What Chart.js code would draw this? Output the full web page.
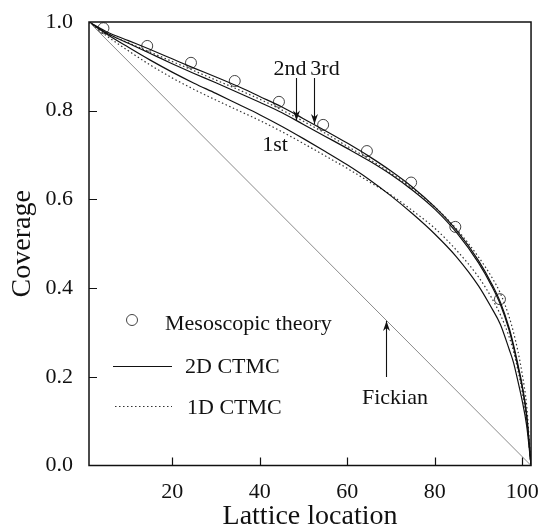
<!DOCTYPE html>
<html><head><meta charset="utf-8">
<script src="https://cdn.jsdelivr.net/npm/chart.js@4/dist/chart.umd.min.js"></script>
<style>html,body{margin:0;padding:0;background:#fff}#wrap{width:545px;height:529px}</style>
</head><body><div id="wrap"><canvas id="c" width="545" height="529"></canvas></div>
<script>
// ---- data ----
const latticeX = [1,5,10,15,20,25,30,35,40,45,50,55,60,65,70,75,80,85,90,93,95,97,98,99,100,101,102];
const ctmc2D_1st = [1.0,0.973,0.943,0.914,0.887,0.862,0.839,0.815,0.791,0.765,0.737,0.708,0.678,0.645,0.608,0.567,0.522,0.470,0.405,0.355,0.318,0.262,0.232,0.190,0.145,0.090,0];
const ctmc2D_2nd = [1.0,0.975,0.952,0.929,0.906,0.884,0.863,0.841,0.819,0.796,0.769,0.742,0.715,0.687,0.656,0.620,0.578,0.525,0.457,0.405,0.363,0.305,0.267,0.222,0.175,0.110,0];
const ctmc2D_3rd = [1.0,0.978,0.958,0.938,0.917,0.896,0.876,0.855,0.832,0.809,0.782,0.755,0.727,0.697,0.664,0.627,0.583,0.530,0.462,0.410,0.368,0.310,0.272,0.228,0.180,0.115,0];
const ctmc1D_lower = [1.0,0.969,0.935,0.903,0.874,0.848,0.824,0.801,0.778,0.753,0.726,0.698,0.670,0.640,0.610,0.574,0.535,0.485,0.425,0.378,0.340,0.290,0.257,0.215,0.165,0.100,0];
const ctmc1D_upper = [1.0,0.975,0.953,0.932,0.911,0.890,0.869,0.848,0.826,0.802,0.776,0.749,0.720,0.691,0.659,0.624,0.583,0.533,0.470,0.425,0.388,0.335,0.300,0.258,0.205,0.135,0];
const mesoX = [4.3,14.3,24.3,34.3,44.4,54.5,64.5,74.6,84.7,94.9];
const mesoY = [0.986,0.946,0.908,0.867,0.820,0.768,0.709,0.638,0.538,0.375];
const fickianX = [1,102];
const fickianY = [1.0,0.0];
const xTickValues = [20,40,60,80,100];
const yTickValues = [0.0,0.2,0.4,0.6,0.8,1.0];
const legendLabels = ['Mesoscopic theory','2D CTMC','1D CTMC'];

const pts = (xs, ys) => xs.map((x,i)=>({x, y: ys[i]}));
const FONT = "'Liberation Serif','Times New Roman',serif";

const solid = (label, ys) => ({label, data: pts(latticeX, ys), borderColor:'#111', borderWidth:1.2, pointRadius:0, fill:false, cubicInterpolationMode:'monotone'});
const dotted = (label, ys) => ({label, data: pts(latticeX, ys), borderColor:'#333', borderWidth:1.2, borderDash:[1.5,2.5], pointRadius:0, fill:false, cubicInterpolationMode:'monotone'});

const decor = {
  id:'decor',
  afterDatasetsDraw(chart){
    const {ctx, chartArea:a, scales:{x, y}} = chart;
    ctx.save();
    // frame
    ctx.strokeStyle = '#111';
    ctx.lineWidth = 1.5;
    ctx.strokeRect(a.left, a.top, a.right - a.left, a.bottom - a.top);
    ctx.lineWidth = 1.2;
    ctx.beginPath();
    xTickValues.forEach(v => { const px = Math.round(x.getPixelForValue(v)) + 0.5; ctx.moveTo(px, a.bottom); ctx.lineTo(px, a.bottom - 8); });
    yTickValues.slice(1, -1).forEach(v => { const py = Math.round(y.getPixelForValue(v)) + 0.5; ctx.moveTo(a.left, py); ctx.lineTo(a.left + 8, py); });
    ctx.stroke();

    ctx.fillStyle = '#111';
    ctx.font = '22px ' + FONT;
    ctx.textBaseline = 'middle';
    // legend
    ctx.lineWidth = 1;
    ctx.strokeStyle = '#444';
    ctx.beginPath(); ctx.arc(132, 320, 5.5, 0, Math.PI*2); ctx.stroke();
    ctx.textAlign = 'left';
    ctx.fillText(legendLabels[0], 165, 324);
    ctx.strokeStyle = '#111'; ctx.lineWidth = 1.2;
    ctx.beginPath(); ctx.moveTo(113, 366.5); ctx.lineTo(172, 366.5); ctx.stroke();
    ctx.fillText(legendLabels[1], 185, 367);
    ctx.strokeStyle = '#333'; ctx.setLineDash([1.5,2.5]);
    ctx.beginPath(); ctx.moveTo(115, 406.5); ctx.lineTo(172, 406.5); ctx.stroke();
    ctx.setLineDash([]);
    ctx.fillText(legendLabels[2], 187, 408);

    // annotations
    ctx.textAlign = 'center';
    ctx.fillText('2nd', 290, 69);
    ctx.fillText('3rd', 325, 69);
    ctx.fillText('1st', 275, 145);
    ctx.fillText('Fickian', 395, 398);
    const arrow = (px, y0, y1) => {
      ctx.strokeStyle = '#111'; ctx.lineWidth = 1.1;
      ctx.beginPath(); ctx.moveTo(px, y0); ctx.lineTo(px, y1); ctx.stroke();
      const dir = y1 > y0 ? 1 : -1;
      ctx.beginPath(); ctx.moveTo(px, y1); ctx.lineTo(px - 3.5, y1 - dir*10); ctx.lineTo(px, y1 - dir*7); ctx.lineTo(px + 3.5, y1 - dir*10); ctx.closePath(); ctx.fill();
    };
    arrow(Math.round(x.getPixelForValue(48.2)) + 0.5, 78, y.getPixelForValue(0.778));
    arrow(Math.round(x.getPixelForValue(52.4)) + 0.5, 78, y.getPixelForValue(0.770));
    arrow(Math.round(x.getPixelForValue(68.8)) + 0.5, 377, y.getPixelForValue(0.326));
    ctx.restore();
  }
};

new Chart(document.getElementById('c'), {
  type: 'scatter',
  data: {
    datasets: [
      {label:'Fickian', data: pts(fickianX, fickianY), showLine:true, borderColor:'#8a8a8a', borderWidth:1, pointRadius:0},
      {...solid('2D CTMC 1st', ctmc2D_1st), showLine:true},
      {...solid('2D CTMC 2nd', ctmc2D_2nd), showLine:true},
      {...solid('2D CTMC 3rd', ctmc2D_3rd), showLine:true},
      {...dotted('1D CTMC a', ctmc1D_lower), showLine:true},
      {...dotted('1D CTMC b', ctmc1D_upper), showLine:true},
      {label:'Mesoscopic theory', data: pts(mesoX, mesoY), showLine:false, pointRadius:5.5, pointStyle:'circle', pointBackgroundColor:'rgba(255,255,255,0)', pointBorderColor:'#444', pointBorderWidth:1}
    ]
  },
  options: {
    responsive:false, animation:false, devicePixelRatio:1,
    layout:{padding:{top:22, right:11, left:0, bottom:0}},
    plugins:{legend:{display:false}, tooltip:{enabled:false}},
    scales:{
      x:{
        type:'linear', min:1, max:102,
        grid:{display:false}, border:{display:false},
        afterBuildTicks: s => { s.ticks = xTickValues.map(v => ({value:v})); },
        afterFit: s => { s.height = 63.5; },
        ticks:{color:'#111', padding:6, maxRotation:0, font:{family:FONT, size:22, lineHeight:1.2}, callback: v => String(v)},
        title:{display:true, text:'Lattice location', color:'#111', padding:0, font:{family:FONT, size:28, lineHeight:0.85}}
      },
      y:{
        type:'linear', min:0, max:1,
        grid:{display:false}, border:{display:false},
        afterBuildTicks: s => { s.ticks = yTickValues.map(v => ({value:v})); },
        afterFit: s => { s.width = 89; },
        ticks:{color:'#111', padding:8, font:{family:FONT, size:22}, callback: v => Number(v).toFixed(1)},
        title:{display:true, text:'Coverage', color:'#111', padding:{top:6, bottom:0}, font:{family:FONT, size:28, lineHeight:1.2}}
      }
    }
  },
  plugins:[decor]
});
</script></body></html>
